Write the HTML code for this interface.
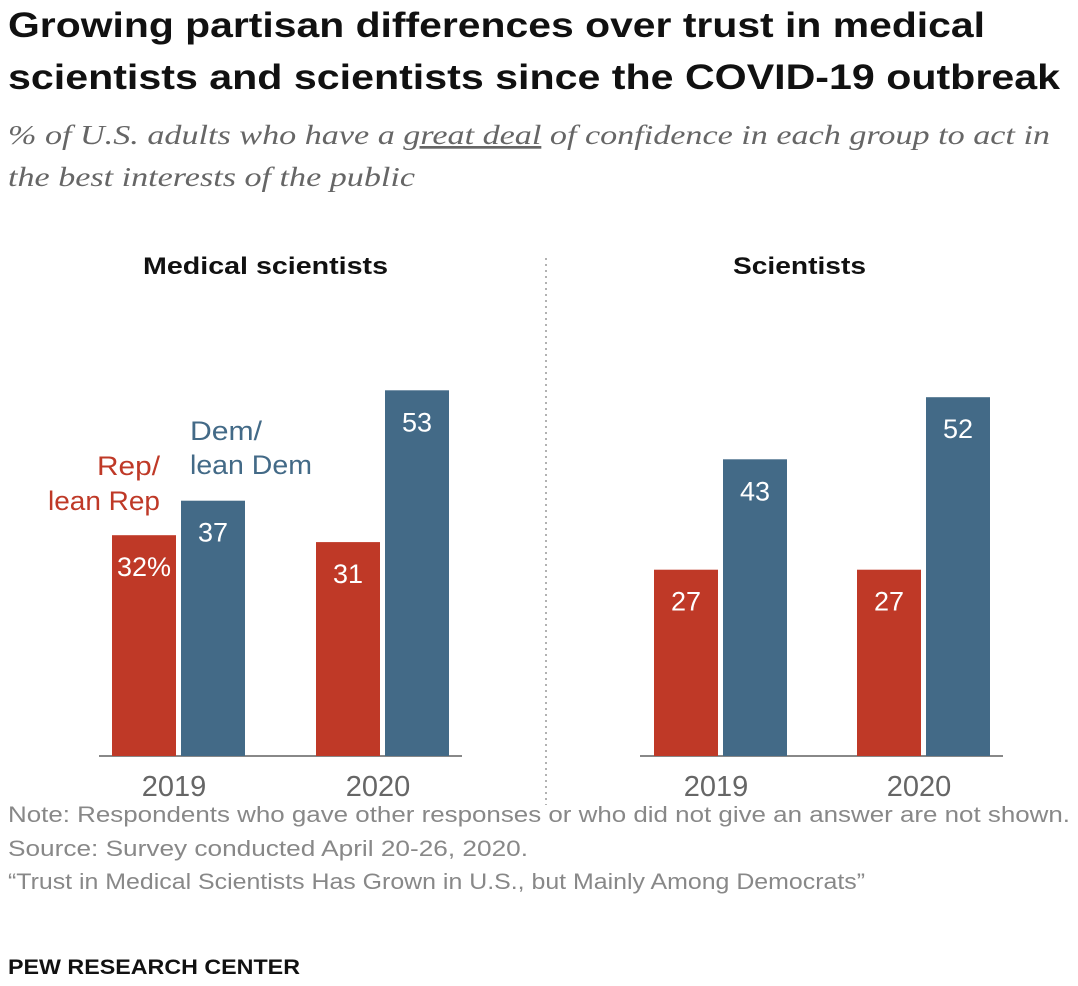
<!DOCTYPE html>
<html><head><meta charset="utf-8"><style>
html,body{margin:0;padding:0;background:#fff;}
svg{display:block;}
text{font-family:"Liberation Sans",sans-serif;}
</style></head><body>
<svg id="chart" width="1078" height="986" viewBox="0 0 1078 986" xmlns="http://www.w3.org/2000/svg">
<text x="8" y="37" font-size="35" font-weight="bold" fill="#111" textLength="977" lengthAdjust="spacingAndGlyphs">Growing partisan differences over trust in medical</text>
<text x="8" y="89" font-size="35" font-weight="bold" fill="#111" textLength="1052" lengthAdjust="spacingAndGlyphs">scientists and scientists since the COVID-19 outbreak</text>
<text x="8" y="144" font-size="27" font-style="italic" fill="#666" style="font-family:'Liberation Serif',serif" textLength="1042" lengthAdjust="spacingAndGlyphs">% of U.S. adults who have a <tspan text-decoration="underline">great deal</tspan> of confidence in each group to act in</text>
<text x="8" y="186" font-size="27" font-style="italic" fill="#666" style="font-family:'Liberation Serif',serif" textLength="407" lengthAdjust="spacingAndGlyphs">the best interests of the public</text>
<line x1="546" y1="258" x2="546" y2="805" stroke="#999" stroke-width="1.5" stroke-dasharray="2,4"/>
<text x="143" y="274" font-size="24" font-weight="bold" fill="#111" textLength="245" lengthAdjust="spacingAndGlyphs">Medical scientists</text>
<text x="733" y="274" font-size="24" font-weight="bold" fill="#111" textLength="133" lengthAdjust="spacingAndGlyphs">Scientists</text>
<text x="97" y="475" font-size="27" fill="#BF3927" textLength="63" lengthAdjust="spacingAndGlyphs">Rep/</text>
<text x="48" y="510" font-size="27" fill="#BF3927" textLength="112" lengthAdjust="spacingAndGlyphs">lean Rep</text>
<text x="190" y="440" font-size="27" fill="#436A87" textLength="72" lengthAdjust="spacingAndGlyphs">Dem/</text>
<text x="190" y="474" font-size="27" fill="#436A87" textLength="122" lengthAdjust="spacingAndGlyphs">lean Dem</text>
<g id="marks"></g>
<text x="8" y="822" font-size="22" fill="#888" textLength="1062" lengthAdjust="spacingAndGlyphs">Note: Respondents who gave other responses or who did not give an answer are not shown.</text>
<text x="8" y="856" font-size="22" fill="#888" textLength="520" lengthAdjust="spacingAndGlyphs">Source: Survey conducted April 20-26, 2020.</text>
<text x="8" y="889" font-size="22" fill="#888" textLength="857" lengthAdjust="spacingAndGlyphs">“Trust in Medical Scientists Has Grown in U.S., but Mainly Among Democrats”</text>
<text x="8" y="974" font-size="21" font-weight="bold" fill="#111" textLength="292" lengthAdjust="spacingAndGlyphs">PEW RESEARCH CENTER</text>
</svg>
<script>
const years = ["2019", "2020"];
const medRep = [32, 31];
const medDem = [37, 53];
const sciRep = [27, 27];
const sciDem = [43, 52];
const repLabels = ["32%", "31"];
const NS = "http://www.w3.org/2000/svg";
const g = document.getElementById("marks");
const baseY = 756, pxPerUnit = 6.9;
function yScale(v){ return baseY - v * pxPerUnit; }
function mk(tag, attrs){ const e = document.createElementNS(NS, tag); for (const k in attrs) e.setAttribute(k, attrs[k]); g.appendChild(e); return e; }
function panel(x0, x1, groupStarts, rep, dem, repLbl, key){
  const axis = mk("line", {x1:x0, x2:x1, y1:baseY, y2:baseY, stroke:"#888", "stroke-width":2});
  
  
  years.forEach((yr, i) => {
    const gx = groupStarts[i];
    [[rep[i], "#BF3927", gx, repLbl ? repLbl[i] : String(rep[i]), "rep"], [dem[i], "#436A87", gx + 69, String(dem[i]), "dem"]].forEach(([v, c, x, lbl, p]) => {
      const r = mk("rect", {x:x, y:yScale(v), width:64, height:baseY - yScale(v), fill:c});
      
      
      const t = mk("text", {x:x + 32, y:yScale(v) + 41, "font-size":27, fill:"#fff", "text-anchor":"middle"});
      t.textContent = lbl;
      
      
    });
    const yl = mk("text", {x:gx + 62, y:796, "font-size":29, fill:"#666", "text-anchor":"middle"});
    yl.textContent = yr;
    
    
  });
}
panel(99, 462, [112, 316], medRep, medDem, repLabels, "medical");
panel(640, 1003, [654, 857], sciRep, sciDem, null, "scientists");
</script>
</body></html>
